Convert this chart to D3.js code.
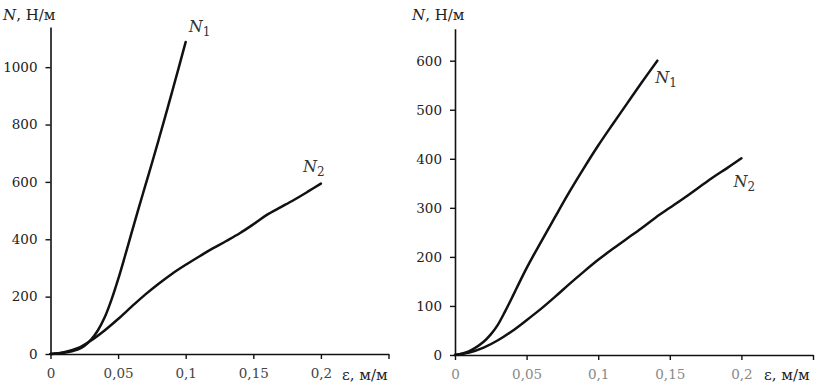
<!DOCTYPE html>
<html>
<head>
<meta charset="utf-8">
<script src="https://cdn.jsdelivr.net/npm/d3@7"></script>
<style>
  body { margin: 0; background: #fff; }
</style>
</head>
<body>
<div id="chart"></div>
<script>
// strain values (m/m) and force N (N/m)
const leftN1 = [
    [0, 0], [0.01, 4], [0.02, 15], [0.025, 28], [0.03, 50], [0.035, 82],
    [0.04, 127], [0.045, 188], [0.05, 260], [0.055, 340], [0.06, 423],
    [0.065, 505], [0.07, 585], [0.075, 665], [0.08, 747], [0.085, 830],
    [0.09, 915], [0.095, 1001], [0.1, 1088]
];
const leftN2 = [
    [0, 0], [0.01, 6], [0.02, 20], [0.03, 47], [0.04, 82], [0.05, 122],
    [0.06, 165], [0.07, 207], [0.08, 245], [0.09, 280], [0.1, 311],
    [0.11, 340], [0.12, 368], [0.13, 394], [0.14, 421], [0.15, 452],
    [0.16, 485], [0.17, 511], [0.18, 537], [0.19, 565], [0.2, 594]
];
const rightN1 = [
    [0, 0], [0.01, 8], [0.02, 27], [0.025, 42], [0.03, 62], [0.035, 89],
    [0.04, 118], [0.045, 148], [0.05, 177], [0.055, 204], [0.06, 230],
    [0.065, 256], [0.07, 282], [0.08, 333], [0.09, 381], [0.1, 427],
    [0.11, 470], [0.12, 512], [0.13, 554], [0.1413, 600]
];
const rightN2 = [
    [0, 0], [0.01, 5], [0.02, 15], [0.03, 30], [0.04, 49], [0.05, 71],
    [0.06, 94], [0.07, 119], [0.08, 145], [0.09, 170], [0.1, 194],
    [0.11, 216], [0.12, 237], [0.13, 258], [0.14, 280], [0.15, 300],
    [0.16, 320], [0.17, 341], [0.18, 362], [0.19, 381], [0.2, 401]
];
const xTicks = [0, 0.05, 0.1, 0.15, 0.2, 0.25];
const leftYTicks = [0, 200, 400, 600, 800, 1000];
const rightYTicks = [0, 100, 200, 300, 400, 500, 600];

var serif = "DejaVu Serif";

var svg = d3.select("#chart").append("svg")
    .attr("width", 836)
    .attr("height", 391)
    .attr("font-family", serif);

var fmt = d => d === 0.25 ? "" : String(d).replace(".", ",");

var panels = [
    {
        xr: [50.5, 388.5], yr: [354, 27], ymax: 1140, yTicks: leftYTicks,
        series: [leftN1, leftN2], xLabelColor: "#444",
        labels: [{ s: 0, n: "1", dx: 3, dy: -10 }, { s: 1, n: "2", dx: -18, dy: -12 }],
        titleX: 3, epsX: 342
    },
    {
        xr: [455, 813], yr: [355, 28.8], ymax: 665, yTicks: rightYTicks,
        series: [rightN1, rightN2], xLabelColor: "#888",
        labels: [{ s: 0, n: "1", dx: -2, dy: 22 }, { s: 1, n: "2", dx: -8, dy: 29 }],
        titleX: 412, epsX: 764
    }
];

panels.forEach(function (p) {
    var x = d3.scaleLinear().domain([0, 0.25]).range(p.xr);
    var y = d3.scaleLinear().domain([0, p.ymax]).range(p.yr);
    var g = svg.append("g");

    var line = d3.line()
        .x(d => x(d[0]))
        .y(d => y(d[1]))
        .curve(d3.curveCatmullRom.alpha(0.5));

    g.selectAll(".curve")
        .data(p.series)
        .join("path")
        .attr("class", "curve")
        .attr("d", line)
        .attr("fill", "none")
        .attr("stroke", "#111")
        .attr("stroke-width", 2.5)
        .attr("stroke-linecap", "round");

    var xAxis = g.append("g")
        .attr("transform", "translate(0," + p.yr[0] + ")")
        .call(d3.axisBottom(x).tickValues(xTicks).tickFormat(fmt)
            .tickSize(5).tickSizeOuter(0).tickPadding(9));

    var yAxis = g.append("g")
        .attr("transform", "translate(" + p.xr[0] + ",0)")
        .call(d3.axisLeft(y).tickValues(p.yTicks).tickFormat(d => d)
            .tickSize(5).tickSizeOuter(0).tickPadding(8));

    [xAxis, yAxis].forEach(function (a) {
        a.attr("font-family", serif).attr("font-size", 13.5);
        a.select(".domain").attr("stroke", "#111").attr("stroke-width", 1.6);
        a.selectAll(".tick line").attr("stroke", "#111").attr("stroke-width", 1.4);
    });
    xAxis.selectAll("text").attr("fill", p.xLabelColor);
    yAxis.selectAll("text").attr("fill", "#222");

    // axis titles
    var t = g.append("text")
        .attr("x", p.titleX).attr("y", 20)
        .attr("fill", "#222").attr("font-size", 15);
    t.append("tspan").attr("font-style", "italic").text("N");
    t.append("tspan").text(", Н/м");

    g.append("text")
        .attr("x", p.epsX).attr("y", 380)
        .attr("fill", "#222").attr("font-size", 15)
        .text("ε, м/м");

    // curve labels
    p.labels.forEach(function (l) {
        var last = p.series[l.s][p.series[l.s].length - 1];
        var lt = g.append("text")
            .attr("x", x(last[0]) + l.dx)
            .attr("y", y(last[1]) + l.dy)
            .attr("fill", "#333").attr("font-size", 16);
        lt.append("tspan").attr("font-style", "italic").text("N");
        lt.append("tspan").attr("dy", 4).attr("font-size", 12).text(l.n);
    });
});
</script>
</body>
</html>
